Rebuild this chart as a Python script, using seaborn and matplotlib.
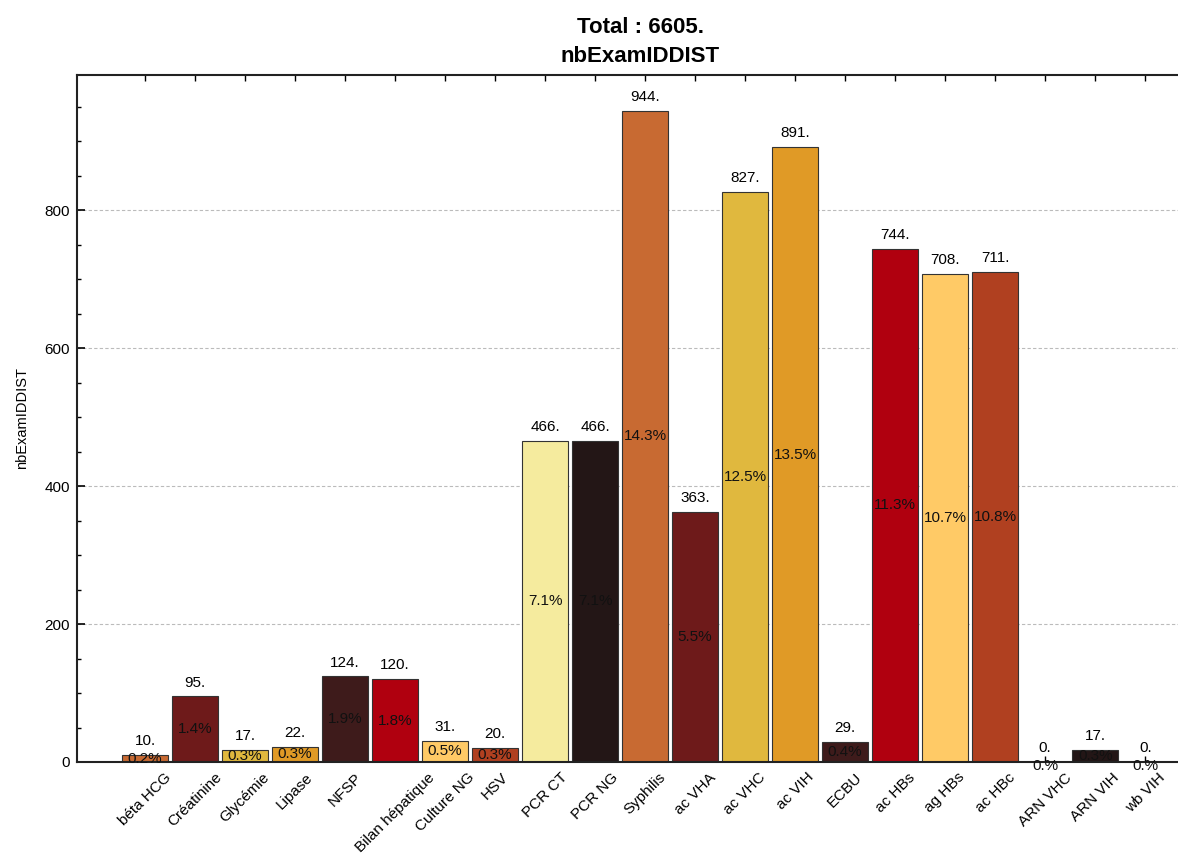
import matplotlib
matplotlib.use("Agg")
import matplotlib.pyplot as plt
import seaborn as sns
from matplotlib.ticker import MultipleLocator

# data
examens = ["béta HCG", "Créatinine", "Glycémie", "Lipase", "NFSP", "Bilan hépatique",
           "Culture NG", "HSV", "PCR CT", "PCR NG", "Syphilis", "ac VHA", "ac VHC",
           "ac VIH", "ECBU", "ac HBs", "ag HBs", "ac HBc", "ARN VHC", "ARN VIH", "wb VIH"]
nb = [10, 95, 17, 22, 124, 120, 31, 20, 466, 466, 944, 363, 827, 891, 29, 744, 708,
      711, 0, 17, 0]
total = 6605

couleurs = ["#C86A32", "#6E1A1A", "#E0B83E", "#E09A26", "#3E1B1B",
            "#B0000F", "#FFCA66", "#B04020", "#F5EB9E", "#231616"]
palette = [couleurs[i % len(couleurs)] for i in range(len(examens))]

sns.set_style("white")
plt.rcParams["font.family"] = ["Liberation Sans", "DejaVu Sans"]
plt.rcParams["text.color"] = "black"
plt.rcParams["axes.labelcolor"] = "black"
plt.rcParams["xtick.color"] = "black"
plt.rcParams["ytick.color"] = "black"

fig = plt.figure(figsize=(11.78, 8.58), dpi=100)
ax = fig.add_axes([0.0654, 0.1119, 0.956, 0.8007])

sns.barplot(x=examens, y=nb, hue=examens, palette=palette, legend=False,
            width=0.92, edgecolor="#333333", linewidth=0.8, saturation=1, ax=ax)

for i, v in enumerate(nb):
    pct = v / total * 100
    ptxt = "0.%" if v == 0 else f"{pct:.1f}%"
    ax.annotate(f"{v}.", (i, v), xytext=(0, 5), textcoords="offset points",
                ha="center", va="bottom", fontsize=11)
    if v == 0:
        ax.annotate(ptxt, (i, 0), xytext=(0, -3), textcoords="offset points",
                    ha="center", va="center", fontsize=11, color="#111111")
    else:
        ax.text(i, v / 2, ptxt, ha="center", va="center", fontsize=11,
                color="#111111")

ax.set_xlim(-1.36, 21.16)
ax.set_ylim(0, 996)
ax.yaxis.set_major_locator(MultipleLocator(200))
ax.yaxis.set_minor_locator(MultipleLocator(50))
ax.grid(axis="y", which="major", linestyle=(0, (3, 2)), color="#BBBBBB", linewidth=0.8)
ax.set_axisbelow(True)

ax.tick_params(axis="y", which="major", direction="in", length=6, width=1.2,
               labelsize=11, left=True, pad=5)
ax.tick_params(axis="y", which="minor", direction="in", length=3, width=1, left=True)
ax.tick_params(axis="x", direction="in", length=4, width=1, top=True, bottom=True,
               labelsize=11, pad=6)
plt.setp(ax.get_xticklabels(), rotation=45, ha="center", va="top")

for s in ["left", "bottom", "top"]:
    ax.spines[s].set_visible(True)
    ax.spines[s].set_linewidth(1.5)
    ax.spines[s].set_color("#222222")
ax.spines["right"].set_visible(False)

ax.set_ylabel("nbExamIDDIST", fontsize=10.5, labelpad=11)
ax.set_xlabel("")
ax.set_title(f"Total : {total}.\nnbExamIDDIST", fontsize=16, fontweight="bold",
             pad=9, linespacing=1.5)

fig.savefig("out.png", dpi=100)
